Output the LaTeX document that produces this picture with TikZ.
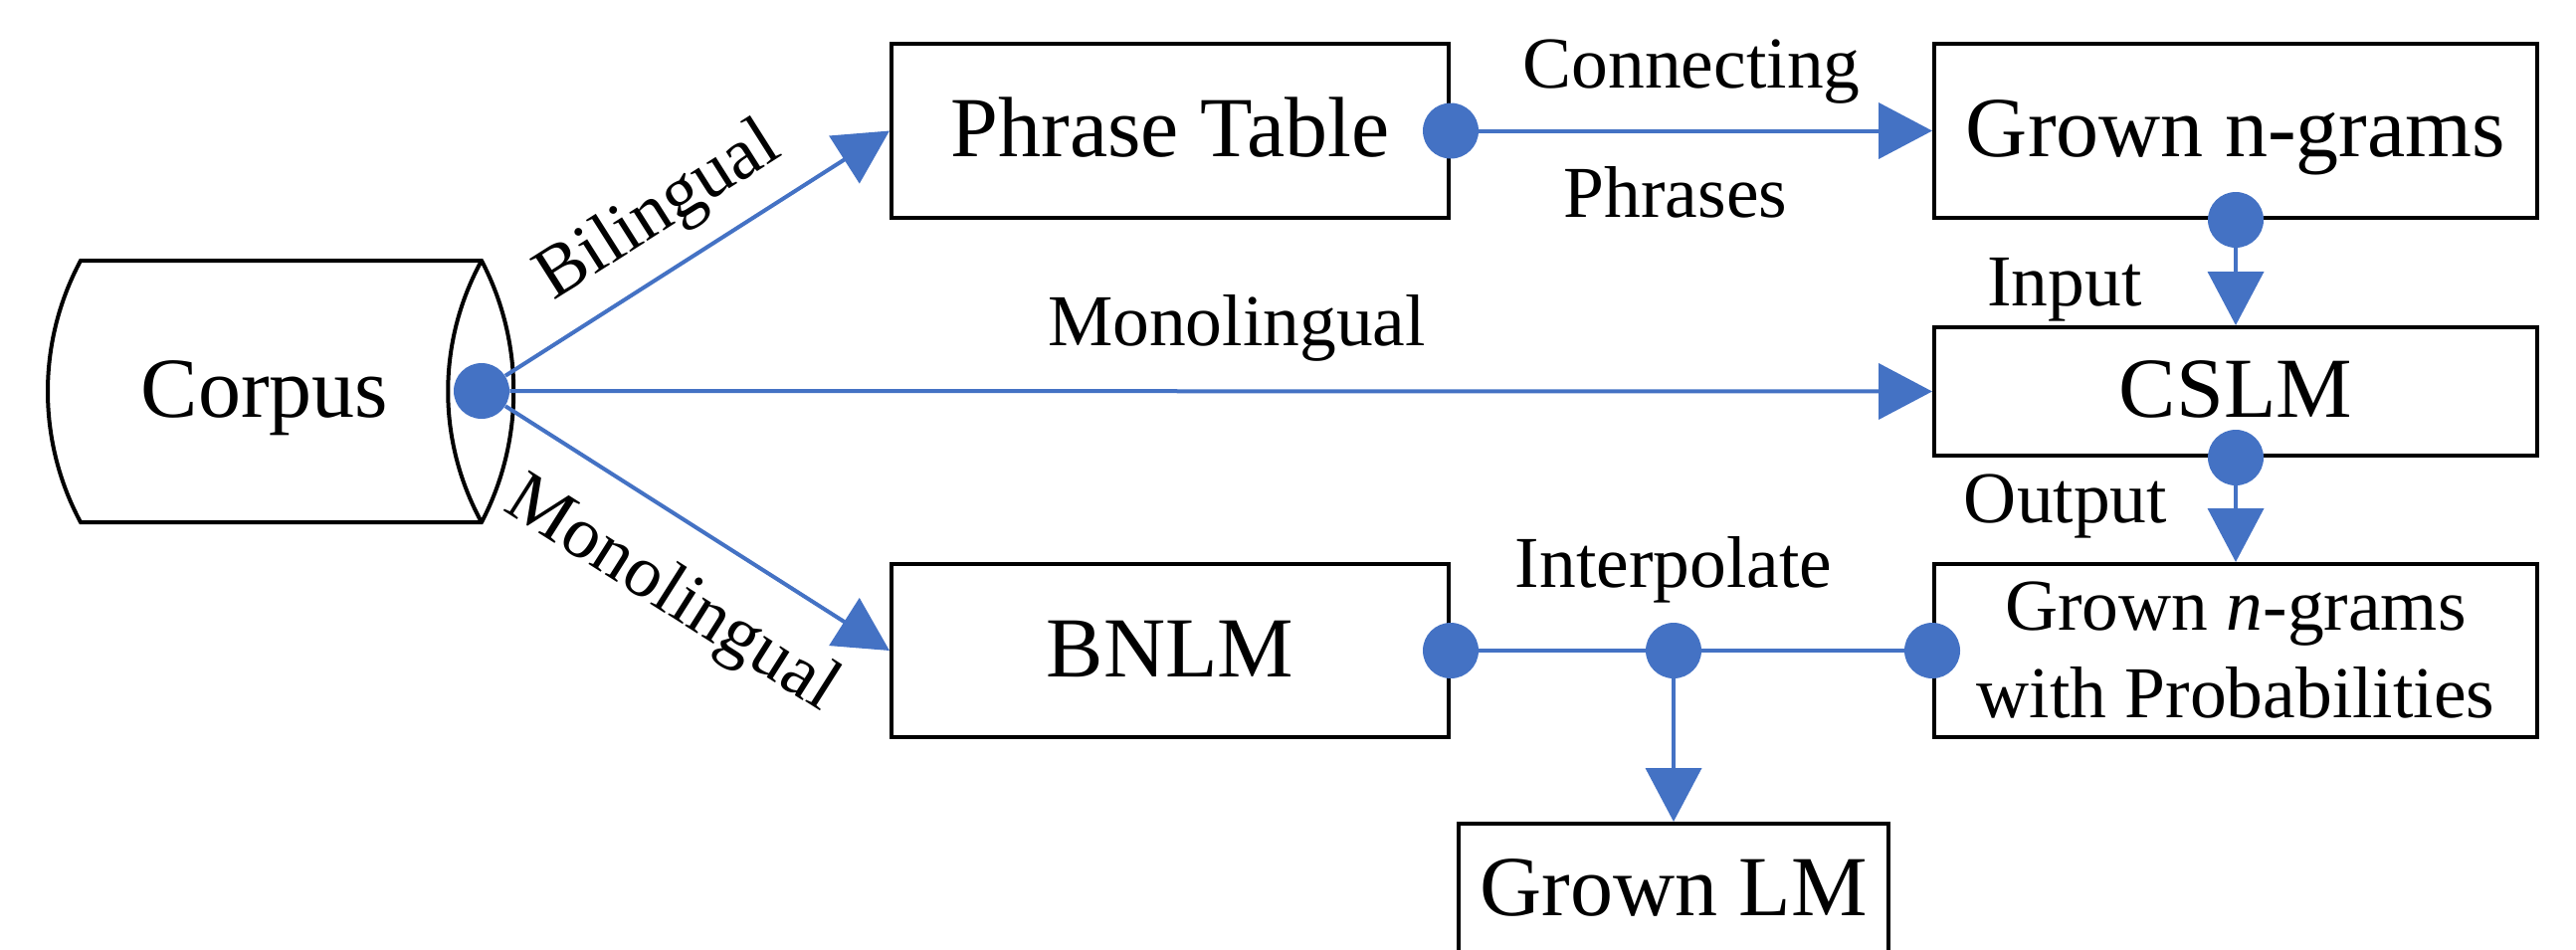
\documentclass[tikz,border=0pt]{standalone}
\usepackage{fontspec}
\setmainfont{Liberation Serif}
\usetikzlibrary{arrows.meta}
\definecolor{linkblue}{RGB}{68,114,196}
\newcommand\boxfont{\fontsize{43pt}{50pt}\selectfont}
\newcommand\tagfont{\fontsize{36.75pt}{44pt}\selectfont}
\begin{document}
\begin{tikzpicture}[x=0.5pt,y=-0.5pt,
  frame/.style={draw=black,line width=2pt,inner sep=0pt},
  boxtext/.style={font=\boxfont,text height=30pt,text depth=4pt},
  dot/.style={circle,fill=linkblue,inner sep=0pt,minimum size=28pt},
  link/.style={draw=linkblue,line width=2pt},
  arr/.style={link,-{Triangle[length=27pt,width=28pt]}},
  lbl/.style={font=\tagfont,inner sep=0pt,anchor=base}]

\useasboundingbox (0,0) rectangle (2589,954);
\clip (0,0) rectangle (2589,954);

% corpus cylinder
\draw[line width=2pt,line join=miter]
  (81,262) -- (484,262)
  .. controls (527,344) and (527,443) .. (484,525)
  -- (81,525)
  .. controls (37,443) and (37,344) .. (81,262) -- cycle;
\draw[line width=2pt] (484,262) .. controls (439,344) and (439,443) .. (484,525);
\node[boxtext,inner sep=0pt] (corpus) at (266,393) {Corpus};

% boxes
\node[frame,boxtext,minimum width=280pt,minimum height=87.5pt] (phrase) at (1176,131.5) {Phrase Table};
\node[frame,boxtext,minimum width=303pt,minimum height=87.5pt] (grown) at (2247,131.5) {Grown n-grams};
\node[frame,boxtext,minimum width=303pt,minimum height=64.5pt] (cslm) at (2247,393.5) {CSLM};
\node[frame,font=\tagfont,align=center,minimum width=303pt,minimum height=87pt] (gnp) at (2247,654) {Grown \textit{n}-grams\\with Probabilities};
\node[frame,boxtext,minimum width=280pt,minimum height=87pt] (bnlm) at (1176,654) {BNLM};
\node[frame,boxtext,text depth=9pt,minimum width=216pt,minimum height=71pt] (lm) at (1682,899) {Grown LM};

% junction dots
\node[dot] (cdot) at (484,393) {};
\node[dot] (pdot) at (phrase.east) {};
\node[dot] (gdot) at (grown.south) {};
\node[dot] (sdot) at (cslm.south) {};
\node[dot] (bdot) at (bnlm.east) {};
\node[dot] (qdot) at (gnp.west) {};
\node[dot] (idot) at (bnlm.east -| lm.north) {};

% connectors
\draw[arr] (cdot) -- (phrase.west);
\draw[arr] (cdot) -- (cslm.west);
\draw[arr] (cdot) -- (bnlm.west);
\draw[arr] (pdot) -- (grown.west);
\draw[arr] (gdot) -- (cslm.north);
\draw[arr] (sdot) -- (gnp.north);
\draw[link] (bdot) -- (idot);
\draw[link] (idot) -- (qdot);
\draw[arr] (idot) -- (lm.north);

% connector labels
\node[lbl] (tconn) at (1700,88) {Connecting};
\node[lbl] (tphr) at (1684,218) {Phrases};
\node[lbl] (tmono) at (1243,347) {Monolingual};
\node[lbl] (tin) at (2075,307) {Input};
\node[lbl] (tout) at (2076,525) {Output};
\node[lbl] (tint) at (1682,590) {Interpolate};
\node[lbl,rotate=32.4] (tbil) at (672,229) {Bilingual};
\node[lbl,rotate=-32.4] (tmono2) at (665,614) {Monolingual};
\end{tikzpicture}
\end{document}
